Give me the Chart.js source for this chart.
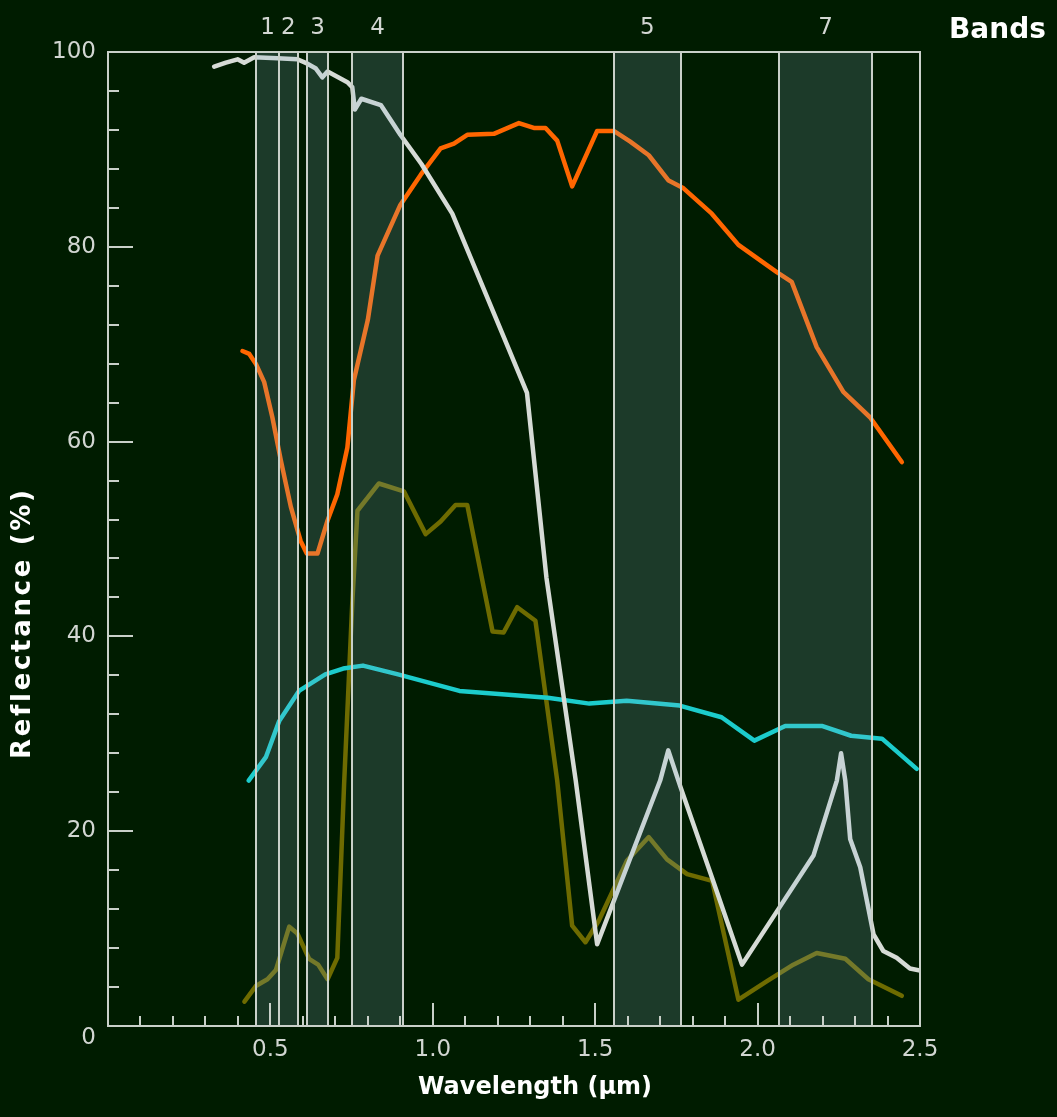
<!DOCTYPE html>
<html><head><meta charset="utf-8">
<script src="https://cdn.jsdelivr.net/npm/chart.js@4/dist/chart.umd.min.js"></script>
<style>html,body{margin:0;padding:0;background:#001c00;}canvas{display:block;}</style>
</head><body>
<canvas id="c" width="1057" height="1117"></canvas>
<script>
// ---- data (wavelength in µm, reflectance in %) ----
const whiteWl   = [0.327,0.363,0.399,0.419,0.45,0.522,0.583,0.614,0.64,0.66,0.676,0.737,0.752,0.76,0.78,0.84,0.90,0.965,1.06,1.234,1.29,1.35,1.44,1.506,1.70,1.725,1.763,1.86,1.952,2.064,2.172,2.244,2.257,2.27,2.285,2.316,2.357,2.387,2.428,2.469,2.5];
const whiteRefl = [98.5,98.9,99.25,98.9,99.45,99.35,99.25,98.8,98.3,97.4,98.0,96.9,96.4,94.1,95.2,94.55,91.5,88.5,83.4,69.5,65.0,46.0,25.2,8.4,25.2,28.3,24.5,15.2,6.3,12.0,17.5,25.2,28.0,25.2,19.2,16.3,9.4,7.7,7.0,5.9,5.7];

const orangeWl   = [0.414,0.435,0.455,0.481,0.506,0.532,0.563,0.593,0.612,0.645,0.676,0.706,0.737,0.757,0.80,0.83,0.90,0.963,1.024,1.065,1.106,1.188,1.265,1.311,1.347,1.383,1.429,1.506,1.557,1.608,1.665,1.726,1.772,1.859,1.941,2.059,2.105,2.182,2.264,2.346,2.444];
const orangeRefl = [69.3,69.0,68.0,66.1,62.5,58.1,53.3,49.8,48.5,48.5,51.9,54.6,59.4,66.3,72.5,79.1,84.3,87.4,90.1,90.6,91.5,91.6,92.7,92.2,92.2,90.9,86.2,91.9,91.9,90.8,89.4,86.8,86.0,83.4,80.2,77.4,76.4,69.7,65.1,62.5,57.9];

const cyanWl   = [0.433,0.486,0.527,0.588,0.669,0.724,0.785,0.893,1.082,1.354,1.482,1.597,1.76,1.889,1.99,2.085,2.2,2.288,2.383,2.49];
const cyanRefl = [25.2,27.6,31.3,34.4,36.1,36.7,37.0,36.1,34.4,33.7,33.1,33.4,32.9,31.7,29.3,30.8,30.8,29.8,29.5,26.4];

const oliveWl   = [0.42,0.455,0.491,0.517,0.558,0.583,0.619,0.647,0.676,0.706,0.727,0.752,0.768,0.834,0.911,0.978,1.024,1.07,1.106,1.184,1.218,1.26,1.316,1.383,1.429,1.47,1.511,1.598,1.665,1.721,1.783,1.86,1.941,2.029,2.11,2.182,2.27,2.341,2.444];
const oliveRefl = [2.5,4.1,4.8,5.75,10.2,9.5,6.9,6.3,4.8,7.0,24.9,43.4,52.9,55.7,54.9,50.5,51.8,53.5,53.5,40.5,40.4,43.0,41.6,25.2,10.3,8.6,10.8,17.0,19.4,17.1,15.6,14.9,2.7,4.6,6.3,7.5,6.9,4.8,3.1];

const bandNames = ['1','2','3','4','5','7'];
const bandStart = [0.457,0.525,0.614,0.752,1.557,2.065];
const bandEnd   = [0.525,0.585,0.676,0.908,1.764,2.353];

const xTickValues = [0.5,1.0,1.5,2.0,2.5];
const yTickValues = [0,20,40,60,80,100];

// ---- styles ----
const BG = '#001c00';
const FRAME = '#c9d0c9';
const TICKTXT = '#d2d6d2';
const FONT = "'DejaVu Sans', Verdana, sans-serif";

function pts(xs, ys){ return xs.map((x,i)=>({x:x, y:ys[i]})); }

function spacedText(c, txt, cx, cy, targetW){
  const n = txt.length;
  const w0 = c.measureText(txt).width;
  const sp = Math.max(0, (targetW - w0) / (n - 1));
  let x = cx - targetW/2;
  c.textAlign = 'left';
  for (const ch of txt){ c.fillText(ch, x, cy); x += c.measureText(ch).width + sp; }
}

const decor = {
  id:'decor',
  beforeDraw(chart){
    const c = chart.ctx; c.save(); c.fillStyle = BG; c.fillRect(0,0,chart.width,chart.height); c.restore();
  },
  afterDatasetsDraw(chart){
    const c = chart.ctx, xs = chart.scales.x, ys = chart.scales.y, a = chart.chartArea;
    c.save();
    // band overlays
    c.fillStyle = 'rgba(140,180,205,0.2)';
    for (let i=0;i<bandStart.length;i++){
      const x0 = xs.getPixelForValue(bandStart[i]), x1 = xs.getPixelForValue(bandEnd[i]);
      c.fillRect(x0, a.top, x1-x0, a.bottom-a.top);
    }
    // band edges
    c.strokeStyle = FRAME; c.lineWidth = 2;
    const edges = new Set(); bandStart.forEach(v=>edges.add(v)); bandEnd.forEach(v=>edges.add(v));
    edges.forEach(v=>{ const x = Math.round(xs.getPixelForValue(v)); c.beginPath(); c.moveTo(x, a.top); c.lineTo(x, a.bottom); c.stroke(); });
    // frame
    c.beginPath();
    c.moveTo(a.left, a.top); c.lineTo(a.right, a.top); c.lineTo(a.right, a.bottom); c.lineTo(a.left, a.bottom); c.closePath(); c.stroke();
    // y ticks (inside)
    for (let v=4; v<100; v+=4){
      const y = Math.round(ys.getPixelForValue(v));
      const len = (v%20===0)?25:11;
      c.beginPath(); c.moveTo(a.left, y); c.lineTo(a.left+len, y); c.stroke();
    }
    // x ticks (inside)
    for (let k=1; k<25; k++){
      const v = k/10, x = Math.round(xs.getPixelForValue(v));
      const len = (k%5===0)?23:10;
      c.beginPath(); c.moveTo(x, a.bottom); c.lineTo(x, a.bottom-len); c.stroke();
    }
    // band labels
    c.fillStyle = TICKTXT; c.font = "23px "+FONT; c.textAlign='center'; c.textBaseline='middle';
    for (let i=0;i<bandNames.length;i++){
      const xm = xs.getPixelForValue((bandStart[i]+bandEnd[i])/2);
      c.fillText(bandNames[i], xm, 28);
    }
    c.fillStyle = '#ffffff'; c.font = "bold 28px "+FONT; c.textAlign='left';
    c.fillText('Bands', 949, 31);
    // origin label
    c.fillStyle = TICKTXT; c.font = "23px "+FONT; c.textAlign='right';
    c.fillText('0', 96, ys.getPixelForValue(0)+12);
    // axis titles
    c.fillStyle = '#ffffff'; c.font = "bold 24px "+FONT; c.textAlign='center';
    c.fillText('Wavelength (µm)', 535, 1088);
    c.translate(23, 625); c.rotate(-Math.PI/2);
    c.font = "bold 26px "+FONT;
    spacedText(c, 'Reflectance (%)', 0, 0, 268);
    c.restore();
  }
};

const lineDs = (label, data, color) => ({
  label, data, borderColor: color, borderWidth: 4.5, pointRadius: 0, fill:false, tension:0,
  borderJoinStyle:'round', borderCapStyle:'round'
});

new Chart(document.getElementById('c'), {
  type: 'line',
  data: { datasets: [
    lineDs('white', pts(whiteWl, whiteRefl), '#d6dbd6'),
    lineDs('orange', pts(orangeWl, orangeRefl), '#ff6600'),
    lineDs('cyan', pts(cyanWl, cyanRefl), '#1ccccc'),
    lineDs('olive', pts(oliveWl, oliveRefl), '#6e6b00'),
  ]},
  options: {
    responsive:false, animation:false, devicePixelRatio:1,
    layout:{ padding:{ top:52, right:137, left:0, bottom:0 } },
    plugins:{ legend:{display:false}, tooltip:{enabled:false} },
    scales:{
      x:{ type:'linear', min:0, max:2.5,
          afterBuildTicks(s){ s.ticks = xTickValues.map(v=>({value:v})); },
          afterFit(s){ s.height = 91; },
          grid:{ display:false, drawTicks:false }, border:{display:false},
          ticks:{ color:TICKTXT, font:{family:FONT, size:23}, padding:10, maxRotation:0, autoSkip:false,
                  callback:(v)=>Number(v).toFixed(1) } },
      y:{ type:'linear', min:0, max:100,
          afterBuildTicks(s){ s.ticks = yTickValues.map(v=>({value:v})); },
          afterFit(s){ s.width = 108; },
          grid:{ display:false, drawTicks:false }, border:{display:false},
          ticks:{ color:TICKTXT, font:{family:FONT, size:23}, padding:12, autoSkip:false,
                  callback:(v)=> v===0 ? '' : String(v) } }
    }
  },
  plugins:[decor]
});
</script>
</body></html>
